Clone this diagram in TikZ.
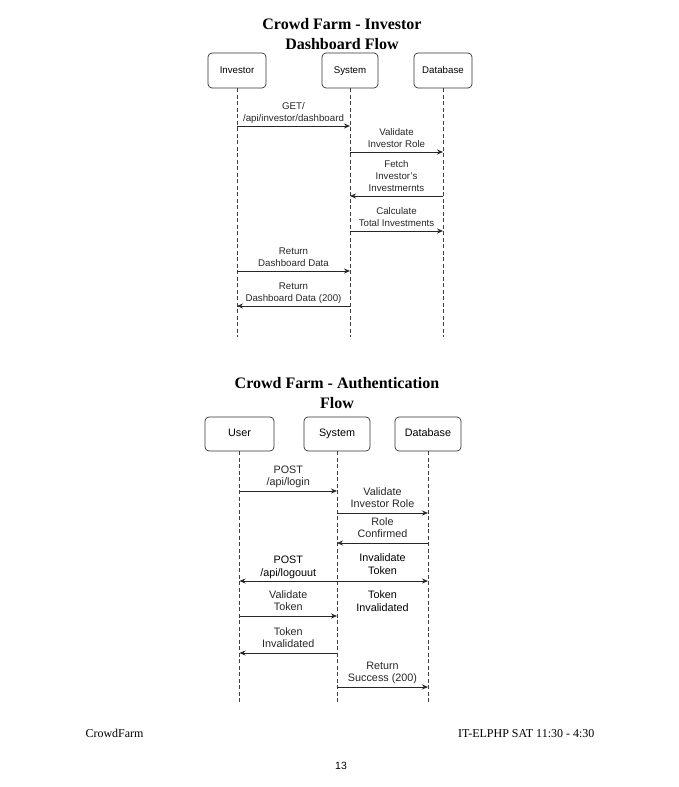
\documentclass[tikz,border=0pt]{standalone}
\usepackage{fontspec}
\setmainfont{Liberation Serif}
\setsansfont{Liberation Sans}
\usetikzlibrary{arrows.meta}

\tikzset{
  actor/.style={draw=black!80, line width=0.7pt, rounded corners=4pt, minimum height=35pt, text height=7pt, text depth=2pt, font=\sffamily\fontsize{9.7}{12}\selectfont},
  lifeline/.style={black!75, dashed, dash pattern=on 4pt off 2.5pt, line width=0.7pt},
  msg/.style={-{Stealth[length=6pt,width=5pt]}, line width=0.7pt, black!85},
  lbl/.style={midway, above, align=center, inner sep=0pt, yshift=1pt},
  title/.style={font=\bfseries\fontsize{16}{20}\selectfont, align=center}
}

% message arrow between two lifelines at height #3
\newcommand{\msgline}[4]{\draw[msg] (#1 |- 0,#3) -- (#2 |- 0,#3) node[lbl]{#4\strut};}

\begin{document}
\begin{tikzpicture}[x=1pt, y=-1pt]
  \useasboundingbox (0,0) rectangle (678,787);

  % Diagramme 1 : tableau de bord investisseur
  \node[title, anchor=base] (t1) at (342,49) {Crowd Farm - Investor\\Dashboard Flow};
  \node[actor, minimum width=58pt] (inv) at (237,70.5) {Investor};
  \node[actor, minimum width=56pt] (sys1) at (350,70.5) {System};
  \node[actor, minimum width=58pt] (db1) at (443,70.5) {Database};
  \draw[lifeline] (inv) -- (inv |- 0,337); % Investor
  \draw[lifeline] (sys1) -- (sys1 |- 0,337); % System
  \draw[lifeline] (db1) -- (db1 |- 0,337); % Database
  \begin{scope}[every node/.append style={font=\sffamily\fontsize{9.7}{12}\selectfont}]
    \msgline{inv}{sys1}{126}{GET/\\/api/investor/dashboard}
    \msgline{sys1}{db1}{152}{Validate\\Investor Role}
    \msgline{db1}{sys1}{196}{Fetch\\Investor's\\Investmernts}
    \msgline{sys1}{db1}{231}{Calculate\\Total Investments}
    \msgline{inv}{sys1}{271}{Return\\Dashboard Data}
    \msgline{sys1}{inv}{306}{Return\\Dashboard Data (200)}
  \end{scope}

  % Diagramme 2 : authentification
  \node[title, anchor=base] (t2) at (337,408) {Crowd Farm - Authentication\\Flow};
  \node[actor, minimum width=69pt, minimum height=34pt, font=\sffamily\fontsize{10.8}{13}\selectfont] (usr) at (239.5,434) {User};
  \node[actor, minimum width=66pt, minimum height=34pt, font=\sffamily\fontsize{10.8}{13}\selectfont] (sys2) at (337,434) {System};
  \node[actor, minimum width=66pt, minimum height=34pt, font=\sffamily\fontsize{10.8}{13}\selectfont] (db2) at (428,434) {Database};
  \draw[lifeline] (usr) -- (usr |- 0,703); % User
  \draw[lifeline] (sys2) -- (sys2 |- 0,703); % System
  \draw[lifeline] (db2) -- (db2 |- 0,703); % Database
  \begin{scope}[every node/.append style={font=\sffamily\fontsize{10.8}{12.5}\selectfont}]
    \msgline{usr}{sys2}{491}{POST\\/api/login}
    \msgline{sys2}{db2}{513}{Validate\\Investor Role}
    \msgline{db2}{sys2}{543}{Role\\Confirmed}
    \draw[msg, {Stealth[length=6pt,width=5pt]}-{Stealth[length=6pt,width=5pt]}] (usr |- 0,581) -- (db2 |- 0,581);
    \path (usr |- 0,581) -- (sys2 |- 0,581) node[lbl]{POST\\/api/logouut\strut};
    \path (sys2 |- 0,581) -- (db2 |- 0,581) node[lbl, yshift=2pt]{Invalidate\\Token\strut};
    \msgline{usr}{sys2}{616}{Validate\\Token}
    \path (sys2 |- 0,616) -- (db2 |- 0,616) node[lbl]{Token\\Invalidated\strut};
    \msgline{sys2}{usr}{653}{Token\\Invalidated}
    \msgline{sys2}{db2}{687}{Return\\Success (200)}
  \end{scope}

  % Pied de page
  \node[anchor=base west, font=\fontsize{12}{14}\selectfont] (foot) at (82,737) {CrowdFarm};
  \node[anchor=base east, font=\fontsize{12}{14}\selectfont] (course) at (598,737) {IT-ELPHP SAT 11:30 - 4:30};
  \node[anchor=base, font=\sffamily\fontsize{10.5}{12}\selectfont] (page) at (341,769) {13};
\end{tikzpicture}
\end{document}
